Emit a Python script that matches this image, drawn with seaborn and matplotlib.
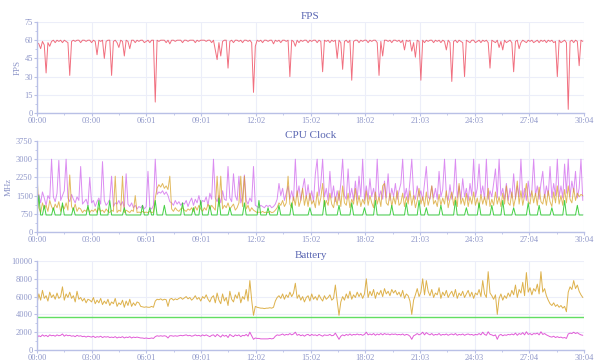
import numpy as np
import matplotlib
matplotlib.use("Agg")
import matplotlib.pyplot as plt
import seaborn as sns
from matplotlib.ticker import FixedLocator

# ---------------- data (sampled every 6 s) ----------------
STEP_S = 6
TOTAL_S = 1804
x_tick_labels = ["00:00", "03:00", "06:01", "09:01", "12:02", "15:02",
                 "18:02", "21:03", "24:03", "27:04", "30:04"]

fps = [58,57,53,59,56,33,58,55,59,60,58,60,59,60,58,60,59,58,31,59,
       60,59,60,60,58,60,60,59,60,60,58,60,59,48,60,59,60,45,59,60,
       60,31,59,60,58,54,60,59,47,60,59,53,60,60,58,60,59,60,60,58,
       59,60,58,60,60,9,60,59,60,60,60,58,60,57,60,60,59,60,60,60,
       58,60,60,59,60,60,60,58,60,59,60,60,60,59,60,60,58,60,52,44,
       58,47,59,60,60,37,59,60,58,60,60,59,60,58,60,60,59,60,58,17,
       55,60,59,60,58,60,60,59,60,60,57,60,59,60,58,60,60,59,60,30,
       60,59,55,60,58,60,59,60,60,58,60,59,60,60,58,60,59,34,60,59,
       60,58,60,59,60,45,60,58,36,59,60,58,60,27,59,60,60,58,60,59,
       60,60,58,60,59,60,60,58,31,59,47,60,60,59,60,58,60,60,59,60,
       58,60,52,60,59,60,51,58,46,60,59,27,60,58,60,59,60,60,58,60,
       59,60,58,60,59,52,60,58,26,59,60,58,60,59,58,30,60,59,58,60,
       60,58,59,60,58,60,59,60,58,37,60,59,58,60,54,59,52,60,58,59,
       60,58,34,59,60,53,58,60,59,58,60,59,60,58,59,60,58,60,59,60,
       58,60,59,60,58,59,30,60,58,59,60,58,3,59,60,58,60,59,39,60,
       59]

cpu_purple = [1300,1550,1200,1650,1400,1100,1500,1350,3000,1450,1250,1600,2950,1300,1500,1700,3000,1400,1250,1550,
              1350,1200,1450,1300,2700,1150,1250,1350,1100,2250,1200,1300,1050,1250,1400,1150,2900,1300,1100,1200,
              1350,2300,1050,1200,1150,1300,1100,1250,1000,2400,1150,1050,1200,1000,1100,950,1050,1000,1100,950,
              1050,2500,1000,950,1100,3000,1550,1650,1600,1700,1550,1650,1500,1250,1200,1100,1300,1150,1250,1100,
              1200,1150,1300,1050,1250,1400,1100,1350,1200,1500,1150,1300,1250,1450,1100,1600,1350,3000,1400,1250,
              1500,1200,1700,1350,1300,2700,1400,1250,2400,1500,1300,2300,1200,1450,2350,1300,1150,1400,1250,2700,
              1100,1050,1000,1100,1050,1000,1100,1050,1100,1000,1050,1150,1350,2000,1500,1800,1300,1600,1900,1350,
              1700,1300,3000,1450,1900,1300,1800,2200,1400,1950,1300,1700,1250,2400,3000,1500,2000,3000,1450,1800,
              1300,2500,1400,1900,1250,1700,1300,2000,3000,1500,1350,2600,1400,1800,1300,2100,1350,2300,1450,3000,
              1300,1900,1350,2200,1450,1800,1300,3000,1400,1700,1350,2100,1400,2400,1300,1800,1450,2000,1350,1700,
              2000,3000,1400,1800,1300,2100,3000,1550,1350,1900,1450,1700,1300,2000,2700,1450,1350,1900,1400,1800,
              1350,2500,1450,1750,3000,1550,1300,1950,1350,1700,3000,1400,1900,1350,2200,1450,1800,1300,2000,1500,
              3000,1450,1800,2800,1500,1900,1350,3000,1350,1700,1450,2000,2600,1400,3000,1500,1800,1350,2000,1300,
              1800,1400,2400,1350,1900,1450,3000,1400,1800,1300,2100,1450,1700,3000,1500,1900,1350,2000,2500,1400,
              1900,1500,2700,1400,2000,1500,3000,1450,1900,1400,2800,1600,3000,1450,2100,1650,2500,1400,1800,3000,
              1300]

cpu_gold = [2350,1000,800,1200,950,1100,850,1300,1050,900,1150,1000,1250,850,1100,950,1200,900,2350,1050,
            900,1150,850,1000,950,800,900,850,1000,800,900,850,950,800,1000,850,900,800,950,850,
            800,900,850,2300,800,900,850,2300,800,900,850,800,900,850,1500,800,820,800,850,800,
            820,800,850,800,820,1400,1800,1950,1850,2000,1800,1900,1750,2300,950,850,1000,900,850,950,
            1000,900,850,950,900,1000,850,1050,900,1100,950,850,1000,900,1150,950,1100,1000,900,2300,
            1050,2300,950,1100,1000,1200,950,1050,1150,900,1000,1200,2300,1050,2300,950,1100,850,1000,900,
            850,800,820,800,850,800,820,800,850,800,820,900,1000,1200,1100,1300,1050,1200,2300,1150,
            1000,1450,1100,1700,1050,1300,1800,1100,1500,1050,1600,1150,1300,1000,1650,1100,1400,2000,1050,1300,
            1100,1600,1150,1000,1450,1100,1700,1050,1900,1200,1100,1600,1000,1350,1150,1800,1100,1500,1050,1350,
            1150,1700,1100,1500,1200,1000,1650,1150,1450,1050,1900,2000,1200,1100,1600,1050,1450,1150,1700,1100,
            1200,1600,1050,1450,1150,1700,1100,1500,1000,1300,1800,1150,1450,1050,1650,1100,1400,1900,1150,1300,
            1050,1550,1100,1400,1150,1700,1000,1350,1650,1100,1450,1050,2000,1150,1400,1100,1600,1050,1450,1150,
            1650,1100,1400,1000,1550,1150,1450,1100,1800,1050,1350,1100,1650,1150,1450,1050,1600,1150,1900,1200,
            1100,1650,1050,1400,2100,1150,1700,1100,1500,2000,1250,1150,1700,1200,1600,1100,1850,1250,1150,1550,
            1100,1700,1250,1050,1650,1200,1900,1150,1500,1100,1750,1200,1900,1350,1200,1800,1300,1600,1450,1550,
            1500]

cpu_green = [700,1500,700,700,1100,700,700,700,700,1000,700,700,700,700,1200,700,700,700,700,700,
             1000,700,700,700,700,700,700,700,1100,700,700,700,700,700,1300,700,700,700,700,700,
             1300,700,700,700,700,700,700,700,1000,700,700,700,700,700,700,700,700,700,1100,700,
             700,700,1000,700,700,1300,700,700,700,700,1100,700,700,700,700,700,700,700,700,700,
             1200,700,700,700,700,700,1000,700,700,700,1300,700,700,700,700,1100,700,700,700,700,
             1400,700,700,700,700,700,1000,700,700,700,700,700,700,700,1200,700,700,700,700,700,
             700,700,1300,700,700,700,700,1000,700,700,700,700,700,1100,700,700,700,700,700,700,
             1200,700,700,700,700,700,700,700,700,700,1000,700,700,700,700,700,700,700,1300,700,
             700,700,700,700,700,700,1100,700,700,700,700,700,700,1200,700,700,700,700,700,700,
             1000,700,700,700,700,700,1300,700,700,700,700,700,700,700,700,1100,700,700,700,700,
             700,700,700,1200,700,700,700,700,700,700,1300,700,700,700,1000,700,700,700,700,700,
             700,700,1100,700,700,700,700,700,700,700,1300,700,700,700,700,700,1000,700,700,700,
             700,700,700,1200,700,700,700,700,700,700,1100,700,700,700,700,700,1300,700,700,700,
             700,700,1000,700,700,700,700,700,700,700,1200,700,700,700,700,700,1100,700,700,700,
             700,700,700,1000,700,700,700,700,700,700,1300,700,700,700,700,700,700,1100,700,700,
             700]

bat_gold = [5200,6300,5600,6700,5800,6100,5500,6500,5900,6200,5700,6400,5800,6000,7100,5600,6300,5900,6500,5800,
            6100,5400,6600,5700,5900,5500,5800,5300,5700,5600,5400,5900,5200,5600,5300,5800,5100,5500,5200,5700,
            5000,5400,5200,5800,4900,5300,5100,5600,4800,5500,5000,5700,4900,5300,5000,5400,5300,4900,4850,4800,
            4850,4800,4800,4900,4800,5500,5700,5650,5750,5600,5700,5650,4900,5700,5800,5600,5750,5650,5800,5900,
            5700,5850,6000,5750,5900,5600,5800,6100,5700,5900,5500,6000,5800,6200,5700,5400,5900,6100,5300,6400,
            5600,5200,6300,5500,5900,5000,6600,5700,5400,6200,5800,6500,5300,6000,5700,6800,5500,7800,5600,3900,
            4900,4800,4750,4700,4700,4650,4700,4700,4750,4700,4800,5500,5900,6100,5800,6300,5700,6200,5900,6500,
            6000,6400,7500,5800,6200,5600,6000,5400,5900,6100,5500,6300,5700,6000,5600,6200,5800,5500,6100,5700,
            5900,6200,5600,5800,7300,5500,3900,5400,6000,5600,6300,5800,6600,5700,6200,5900,6500,6000,6400,5800,
            6300,8000,5900,6600,6100,6800,5800,6500,6200,6700,6000,6900,6300,6600,6100,6800,6400,6700,6200,6500,
            6000,6700,5800,6300,6100,5500,4000,5600,6200,6900,6000,6500,8000,6200,7800,6600,6100,6800,5900,6400,
            6200,7000,5800,6500,6100,6700,5900,6300,6600,6000,6800,5800,6400,6100,6600,5900,6300,6700,6000,6500,
            5800,6400,6200,6800,6000,7800,6300,5900,8800,6400,6100,5700,6200,4000,5800,6300,5600,6100,5800,6400,
            6000,6700,6200,7300,5900,6800,6400,7600,6100,8700,6500,7000,6200,6900,6600,7400,6300,8800,6500,6900,
            6100,5600,5200,5000,5300,4900,5100,4800,5000,4700,4900,4300,6500,7100,6800,7800,6900,7300,6600,6200,
            5900]

bat_magenta = [1400,1600,1500,1700,1550,1650,1500,1700,1600,1650,1550,1700,1600,1650,1800,1550,1700,1600,1650,1550,
               1600,1500,1650,1550,1600,1500,1550,1450,1550,1500,1450,1550,1400,1500,1450,1550,1400,1500,1450,1500,
               1400,1450,1400,1500,1350,1450,1400,1500,1350,1450,1400,1500,1350,1450,1400,1450,1400,1350,1350,1300,
               1350,1300,1300,1350,1300,1500,1600,1550,1600,1550,1600,1550,1350,1600,1600,1550,1600,1550,1600,1650,
               1600,1650,1700,1600,1650,1550,1600,1700,1600,1650,1550,1700,1600,1700,1600,1500,1650,1700,1500,1750,
               1600,1450,1700,1550,1650,1400,1750,1600,1500,1700,1600,1700,1500,1650,1600,1750,1550,2000,1600,1200,
               1350,1300,1300,1250,1250,1250,1250,1250,1300,1250,1300,1550,1700,1650,1700,1800,1650,1750,1700,1850,
               1700,1800,2000,1650,1750,1600,1700,1550,1700,1750,1600,1750,1650,1700,1600,1750,1650,1550,1700,1650,
               1650,1750,1600,1650,1900,1550,1200,1550,1700,1600,1750,1650,1800,1650,1750,1700,1800,1700,1750,1650,
               1750,2000,1700,1800,1700,1850,1650,1800,1700,1850,1700,1850,1750,1800,1700,1800,1750,1800,1700,1750,
               1700,1800,1650,1750,1700,1550,1200,1600,1700,1850,1700,1800,2000,1700,1950,1800,1700,1850,1650,1750,
               1700,1850,1650,1750,1700,1800,1650,1750,1800,1700,1850,1650,1750,1700,1800,1650,1750,1800,1700,1750,
               1650,1750,1700,1850,1700,2000,1750,1650,2050,1750,1700,1600,1700,1200,1650,1750,1600,1700,1650,1750,
               1700,1800,1700,1900,1650,1850,1750,1950,1700,2050,1750,1850,1700,1850,1800,1900,1700,2050,1750,1850,
               1700,1600,1500,1450,1550,1400,1500,1400,1450,1350,1400,1300,1800,1900,1850,2000,1850,1950,1800,1700,
               1650]

bat_green_t = [0, 1804]
bat_green = [3750, 3750]

fps_ticks = [0, 15, 30, 45, 60, 75]
cpu_ticks = [0, 750, 1500, 2250, 3000, 3750]
bat_ticks = [0, 2000, 4000, 6000, 8000, 10000]

# ---------------- style ----------------
sns.set_style("white")
plt.rcParams['font.family'] = ['Liberation Serif', 'DejaVu Serif']

AXIS_COL = '#b9c0e6'
TICK_TXT = '#8f97c9'
GRID_COL = '#eceef9'
TITLE_COL = '#5a66b2'


def secs(series):
    return np.arange(len(series)) * STEP_S


fig = plt.figure(figsize=(6.0, 3.63), dpi=100)
W, H = 600.0, 363.0
ax_fps = fig.add_axes([37 / W, 1 - 113 / H, 547 / W, 91 / H])
ax_cpu = fig.add_axes([37 / W, 1 - 232 / H, 547 / W, 91 / H])
ax_bat = fig.add_axes([37 / W, 1 - 350 / H, 547 / W, 89 / H])

sns.lineplot(x=secs(fps), y=fps, ax=ax_fps, color='#ee4b5f', linewidth=0.7, alpha=0.8)

sns.lineplot(x=secs(cpu_purple), y=cpu_purple, ax=ax_cpu, color='#c950ea', linewidth=0.7, alpha=0.65)
sns.lineplot(x=secs(cpu_gold), y=cpu_gold, ax=ax_cpu, color='#d69d1c', linewidth=0.7, alpha=0.7)
sns.lineplot(x=secs(cpu_green), y=cpu_green, ax=ax_cpu, color='#2fcb2f', linewidth=0.7, alpha=0.9)

sns.lineplot(x=secs(bat_gold), y=bat_gold, ax=ax_bat, color='#d8a42c', linewidth=0.7, alpha=0.85)
sns.lineplot(x=bat_green_t, y=bat_green, ax=ax_bat, color='#62de62', linewidth=1.0)
sns.lineplot(x=secs(bat_magenta), y=bat_magenta, ax=ax_bat, color='#dc3fd0', linewidth=0.7, alpha=0.85)

major_x = [TOTAL_S * i / (len(x_tick_labels) - 1) for i in range(len(x_tick_labels))]
minor_x = [(a + b) / 2 for a, b in zip(major_x[:-1], major_x[1:])]

for ax, yt, title, ylab in [(ax_fps, fps_ticks, "FPS", "FPS"),
                            (ax_cpu, cpu_ticks, "CPU Clock", "MHz"),
                            (ax_bat, bat_ticks, "Battery", "")]:
    ax.set_xlim(0, TOTAL_S)
    ax.set_ylim(yt[0], yt[-1])
    ax.xaxis.set_major_locator(FixedLocator(major_x))
    ax.xaxis.set_minor_locator(FixedLocator(minor_x))
    ax.set_xticklabels(x_tick_labels)
    ax.set_yticks(yt)
    ax.yaxis.set_minor_locator(FixedLocator([(a + b) / 2 for a, b in zip(yt[:-1], yt[1:])]))
    ax.grid(True, which='major', color=GRID_COL, linewidth=0.8)
    ax.set_axisbelow(True)
    for s in ['top', 'right']:
        ax.spines[s].set_visible(False)
    for s in ['left', 'bottom']:
        ax.spines[s].set_color(AXIS_COL)
        ax.spines[s].set_linewidth(1.0)
    ax.tick_params(axis='both', which='major', length=2.5, width=0.8, color=AXIS_COL,
                   labelcolor=TICK_TXT, labelsize=6, pad=0.5, bottom=True, left=True)
    ax.tick_params(axis='both', which='minor', length=1.5, width=0.6, color=AXIS_COL,
                   bottom=True, left=True)
    ax.set_title(title, color=TITLE_COL, fontsize=8, pad=2)
    ax.set_xlabel("")
    ax.set_ylabel(ylab, color=TICK_TXT, fontsize=6.5, labelpad=2)

fig.savefig("out.png", dpi=100)
